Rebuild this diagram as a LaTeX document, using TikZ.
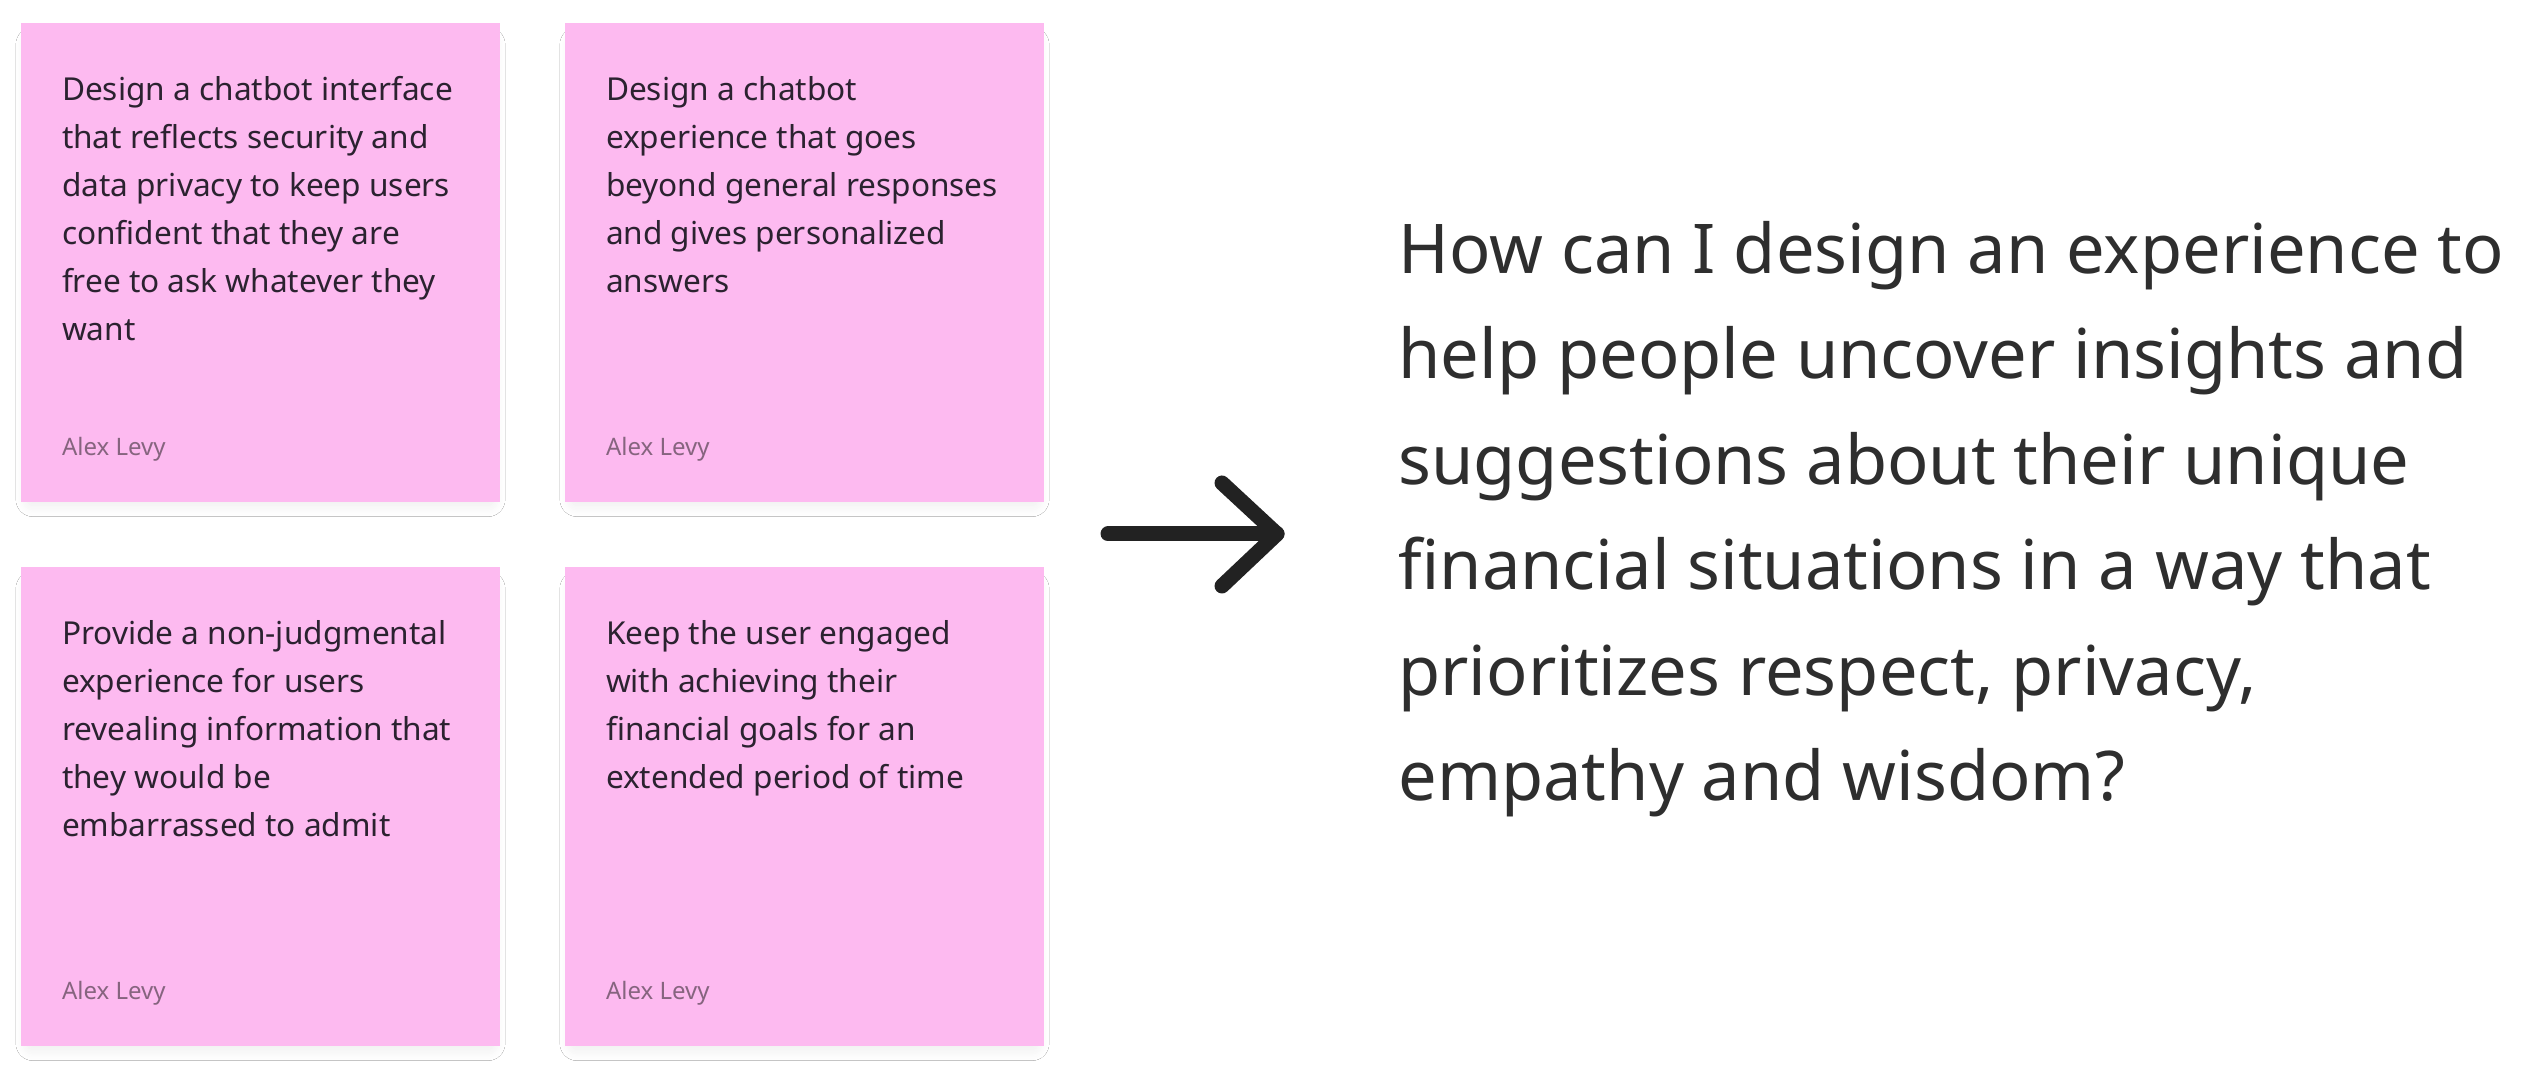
\documentclass[tikz,border=0pt]{standalone}
\usepackage{fontspec}
\setmainfont{Noto Sans}
\usetikzlibrary{positioning,shadows.blur}
\definecolor{stickypink}{HTML}{FDBAF0}
\definecolor{stickyink}{HTML}{2B2230}
\definecolor{authorink}{HTML}{86647F}
\definecolor{questionink}{HTML}{2E2E2E}
\definecolor{arrowink}{HTML}{222222}
\begin{document}
\begin{tikzpicture}[x=0.5pt,y=0.5pt,
	sticky_node/.style={rectangle,fill=stickypink,minimum width=239.5pt,minimum height=239.5pt,inner sep=0pt,
		blur shadow={shadow xshift=0pt,shadow yshift=-5pt,shadow scale=0.95,shadow blur radius=9pt,shadow blur steps=12,shadow opacity=12}},
	idea_node/.style={inner sep=0pt,align=left,text=stickyink,font=\fontsize{15.8pt}{24pt}\selectfont},
	author_node/.style={inner sep=0pt,text=authorink,font=\fontsize{12pt}{14pt}\selectfont},
	question_node/.style={inner sep=0pt,align=left,text=questionink,font=\fontsize{34.3pt}{52.7pt}\selectfont},
	arrow_line/.style={draw=arrowink,line width=7.5pt,line cap=round,line join=round}]
	
	\useasboundingbox[fill=white] (0,0) rectangle (2531,1070);
	
	% sticky notes
	\node[sticky_node] (s1) at (260.5,807.5) {};
	\node[sticky_node] (s2) at (804.5,807.5) {};
	\node[sticky_node] (s3) at (260.5,263.5) {};
	\node[sticky_node] (s4) at (804.5,263.5) {};
	
	\node[idea_node,below right=26.5pt and 20.5pt of s1.north west] (t1) {Design a chatbot interface\\that reflects security and\\data privacy to keep users\\confident that they are\\free to ask whatever they\\want};
	\node[idea_node,below right=26.5pt and 20.5pt of s2.north west] (t2) {Design a chatbot\\experience that goes\\beyond general responses\\and gives personalized\\answers};
	\node[idea_node,below right=26.5pt and 20.5pt of s3.north west] (t3) {Provide a non-judgmental\\experience for users\\revealing information that\\they would be\\embarrassed to admit};
	\node[idea_node,below right=26.5pt and 20.5pt of s4.north west] (t4) {Keep the user engaged\\with achieving their\\financial goals for an\\extended period of time};
	
	\node[author_node,above right=23.5pt and 20.5pt of s1.south west,anchor=base west] (a1) {Alex Levy};
	\node[author_node,above right=23.5pt and 20.5pt of s2.south west,anchor=base west] (a2) {Alex Levy};
	\node[author_node,above right=23.5pt and 20.5pt of s3.south west,anchor=base west] (a3) {Alex Levy};
	\node[author_node,above right=23.5pt and 20.5pt of s4.south west,anchor=base west] (a4) {Alex Levy};
	
	% arrow
	\coordinate (tail) at (1108,536);
	\coordinate (tip) at (1277,536);
	\coordinate (arm_up) at (1222,587);
	\coordinate (arm_down) at (1222,484);
	\draw[arrow_line] (tail) -- (tip);
	\draw[arrow_line] (arm_up) -- (tip) -- (arm_down);
	
	% question
	\node[question_node,anchor=north west] (q) at (1398,849) {How can I design an experience to\\help people uncover insights and\\suggestions about their unique\\financial situations in a way that\\prioritizes respect, privacy,\\empathy and wisdom?};
	
\end{tikzpicture}
\end{document}
